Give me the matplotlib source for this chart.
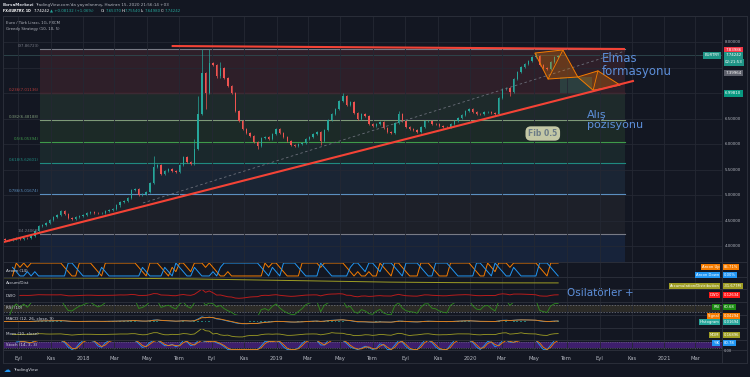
import matplotlib.pyplot as plt
import matplotlib.dates as mdates
import matplotlib.transforms as mtrans
from matplotlib.patches import Polygon, Rectangle
from matplotlib.lines import Line2D
import numpy as np
import pandas as pd

W, H = 750, 377
BG = '#131722'
GRID = '#242833'
SEP = '#2a2e39'
TXT = '#b2b5be'
UP, DN = '#26a69a', '#ef5350'

# EUR/TRY weekly closes (weeks from 2017-07-31 to 2020-06-15)
closes = [4.15, 4.13, 4.12, 4.14, 4.16, 4.15, 4.17, 4.16, 4.20, 4.30,
          4.39, 4.42, 4.45, 4.52, 4.57, 4.62, 4.70, 4.64, 4.55, 4.54,
          4.57, 4.60, 4.62, 4.65, 4.67, 4.66, 4.65, 4.66, 4.69, 4.71,
          4.73, 4.80, 4.86, 4.88, 4.95, 5.10, 5.12, 5.00, 5.02, 5.07,
          5.25, 5.55, 5.60, 5.42, 5.48, 5.52, 5.48, 5.45, 5.60, 5.75,
          5.66, 5.62, 5.90, 6.60, 7.40, 7.00, 7.60, 7.55, 7.33, 7.50,
          7.30, 7.15, 7.00, 6.65, 6.45, 6.30, 6.22, 6.16, 6.05, 5.96,
          6.12, 6.15, 6.10, 6.20, 6.30, 6.22, 6.14, 6.06, 5.98, 5.97,
          6.00, 6.03, 6.10, 6.15, 6.20, 6.24, 6.06, 6.28, 6.48, 6.60,
          6.70, 6.85, 6.95, 6.78, 6.82, 6.62, 6.50, 6.60, 6.55, 6.40,
          6.35, 6.40, 6.43, 6.32, 6.25, 6.22, 6.42, 6.60, 6.45, 6.34,
          6.30, 6.28, 6.24, 6.33, 6.45, 6.46, 6.40, 6.39, 6.36, 6.34,
          6.33, 6.40, 6.46, 6.52, 6.58, 6.66, 6.69, 6.64, 6.60, 6.59,
          6.63, 6.64, 6.62, 6.60, 6.90, 7.08, 7.10, 7.02, 7.28, 7.42,
          7.52, 7.58, 7.64, 7.72, 7.74, 7.55, 7.50, 7.47, 7.62, 7.72,
          7.74]
dates = pd.date_range('2017-07-31', periods=len(closes), freq='7D')
# weeks with long wicks
wick_hi = {41: 5.78, 52: 6.10, 53: 6.95, 54: 7.87, 56: 7.86, 59: 7.62,
           92: 7.00, 107: 6.66, 144: 7.80}
wick_lo = {55: 6.70, 69: 5.90, 86: 5.98, 137: 6.95}

# accumulation / distribution (millions)
ad_dates = ['2017-07-31', '2017-12-01', '2018-04-01', '2018-08-01', '2018-12-01',
            '2019-04-01', '2019-08-01', '2019-12-01', '2020-03-01', '2020-06-15']
ad_vals = [18, 16, 13, 6, -4, -14, -24, -29, -31, -31.7]

# fibonacci retracement
fib_ratio = ['0', '0.236', '0.382', '0.5', '0.618', '0.786', '1']
fib_price = [7.86723, 7.01136, 6.48188, 6.05394, 5.62601, 5.01674, 4.24068]
fib_line = ['#787b86', '#b33a3a', '#7e9a78', '#3f9a4a', '#1f8a80', '#5b8fc0', '#787b86']
fib_fill = ['#2e1f29', '#1e2a2b', '#1c2a27', '#1a282c', '#1a2534', '#1d2029', '#17233a']
fib_span = ['2017-10-12', '2020-10-19']

# drawings
trend_d, trend_p = ['2017-07-28', '2020-11-03'], [4.065, 7.241]
resist_d, resist_p = ['2018-06-19', '2020-10-17'], [7.927, 7.869]
dash_d, dash_p = ['2018-04-24', '2020-10-19'], [4.849, 7.829]
diam_a_d = ['2020-05-02', '2020-06-24', '2020-07-22', '2020-05-27']
diam_a_p = [7.79, 7.85, 7.32, 7.28]
diam_b_d = ['2020-07-22', '2020-08-29', '2020-10-10', '2020-08-20']
diam_b_p = [7.32, 7.44, 7.16, 7.06]
box_d, box_p = ['2020-06-19', '2020-08-18'], [7.00, 7.32]
last_price = 7.74242

tick_dates = pd.date_range('2017-09-01', '2021-03-01', freq='2MS')
tick_labels = ['Eyl', 'Kas', '2018', 'Mar', 'May', 'Tem', 'Eyl', 'Kas', '2019', 'Mar', 'May',
               'Tem', 'Eyl', 'Kas', '2020', 'Mar', 'May', 'Tem', 'Eyl', 'Kas', '2021', 'Mar']
price_ticks = [4.0, 4.5, 5.0, 5.5, 6.0, 6.5, 7.0, 7.5, 8.0]

xlim = (mdates.date2num(pd.Timestamp('2017-08-03')), mdates.date2num(pd.Timestamp('2021-04-20')))
D = lambda s: mdates.date2num(pd.to_datetime(s))

fig = plt.figure(figsize=(7.5, 3.77), dpi=100, facecolor=BG)


def box(y0, y1):
    return [3 / W, 1 - y1 / H, 719 / W, (y1 - y0) / H]


def panel(y0, y1):
    a = fig.add_axes(box(y0, y1))
    a.set_facecolor(BG)
    a.set_xlim(xlim)
    a.set_xticks(mdates.date2num(tick_dates))
    a.set_yticks([])
    a.tick_params(length=0, labelbottom=False)
    a.grid(axis='x', color=GRID, lw=0.6)
    for sp in a.spines.values():
        sp.set_visible(False)
    return a


# ---- main price pane
ax = panel(16, 262)
ax.set_ylim(3.692, 8.516)
ax.set_yticks(price_ticks)
ax.grid(axis='y', color=GRID, lw=0.6)
ax.tick_params(axis='y', labelleft=False)

f0, f1 = D(fib_span[0]), D(fib_span[1])
for k in range(len(fib_price)):
    lo = fib_price[k + 1] if k + 1 < len(fib_price) else ax.get_ylim()[0]
    ax.add_patch(Rectangle((f0, lo), f1 - f0, fib_price[k] - lo, fc=fib_fill[k], ec='none', zorder=0.5))
    ax.plot([f0, f1], [fib_price[k]] * 2, color=fib_line[k], lw=0.8, zorder=1)
    ax.text(f0 - 2, fib_price[k] + 0.02, f'{fib_ratio[k]}({fib_price[k]:.5f})', color=fib_line[k],
            fontsize=2.8, ha='right', va='bottom')

ax.axhline(last_price, color='#2f4a4f', lw=0.6, zorder=1)

xd = mdates.date2num(dates)
for i, c in enumerate(closes):
    o = closes[i - 1] if i > 0 else c
    col = UP if c >= o else DN
    hi = wick_hi.get(i, max(o, c) + 0.02)
    lo = wick_lo.get(i, min(o, c) - 0.02)
    ax.vlines(xd[i], lo, hi, color=col, lw=0.5, zorder=2)
    ax.bar(xd[i], max(abs(c - o), 0.01), bottom=min(o, c), width=2.6, color=col, lw=0, zorder=2)

ax.plot(D(dash_d), dash_p, color='#6b6f7a', lw=0.6, ls=(0, (3, 3)), zorder=3)
ax.plot(D(trend_d), trend_p, color='#f44336', lw=1.5, zorder=4)
ax.plot(D(resist_d), resist_p, color='#f44336', lw=1.5, zorder=4)
ax.add_patch(Rectangle((D(box_d[0]), box_p[0]), D(box_d[1]) - D(box_d[0]), box_p[1] - box_p[0],
                       fc='#2c3f3f', ec='none', zorder=1.5))
for dd, pp in ((diam_a_d, diam_a_p), (diam_b_d, diam_b_p)):
    pts = np.column_stack([D(dd), pp])
    ax.add_patch(Polygon(pts, closed=True, fc='#f57c00', alpha=0.28, ec='none', zorder=3))
    ax.add_patch(Polygon(pts, closed=True, fill=False, ec='#f57c00', lw=0.7, zorder=3))
    ax.plot([pts[1, 0], pts[3, 0]], [pts[1, 1], pts[3, 1]], color='#f57c00', lw=0.6, zorder=3)

ax.text(D('2020-09-06'), 7.81, 'Elmas\nformasyonu', color='#5d8fda', fontsize=8.5, va='top',
        ha='left', linespacing=1.0, zorder=6)
ax.text(D('2020-08-08'), 6.673, 'Alış\npozisyonu', color='#5d8fda', fontsize=8, va='top',
        ha='left', linespacing=1.0, zorder=6)
ax.text(D('2020-05-17'), 6.212, 'Fib 0.5', color='#6b7b86', fontsize=5.5, fontweight='bold',
        ha='center', va='center', zorder=6,
        bbox=dict(boxstyle='round,pad=0.35,rounding_size=0.7', fc='#c3c7a5', ec='none'))

# price scale
bl = mtrans.blended_transform_factory(ax.transAxes, ax.transData)
for p in price_ticks:
    if p in (7.0, 7.5):
        continue
    ax.text(1.0045, p, f'{p:.5f}', transform=bl, fontsize=2.9, color=TXT, va='center', ha='left')
tags = [(7.83986, '7.83986', '#f23645'), (last_price, '7.74242', '#1e9486'),
        (7.605, '02:21:53', '#1e9486'), (7.39964, '7.39964', '#5d606b'),
        (6.99810, '6.99810', '#089981')]
for p, s, c in tags:
    ax.text(1.0045, p, s, transform=bl, fontsize=2.9, color='white', va='center', ha='left',
            bbox=dict(fc=c, ec='none', pad=0.9))
ax.text(0.9965, last_price, 'EURTRY', transform=bl, fontsize=2.9, color='white', va='center',
        ha='right', bbox=dict(fc='#1e9486', ec='none', pad=0.9))

# ---- indicators from the weekly closes
s = pd.Series(closes, index=xd)
n = 3
ar_up = s.rolling(n + 1).apply(lambda w: 100 * np.argmax(w) / n, raw=True)
ar_dn = s.rolling(n + 1).apply(lambda w: 100 * np.argmin(w) / n, raw=True)
dwo = s - s.rolling(6).mean()
d = s.diff()
gain = d.clip(lower=0).ewm(alpha=1 / 3).mean()
loss = (-d.clip(upper=0)).ewm(alpha=1 / 3).mean()
rsi = 100 - 100 / (1 + gain / loss.replace(0, np.nan))
macd = s.ewm(span=3).mean() - s.ewm(span=6).mean()
signal = macd.ewm(span=2).mean()
hist = macd - signal
mom = s - s.shift(3)
lo4, hi4 = s.rolling(4).min(), s.rolling(4).max()
k = (100 * (s - lo4) / (hi4 - lo4).replace(0, np.nan)).rolling(2).mean()
dk = k.rolling(2).mean()

a1 = panel(262, 277)
a1.set_ylim(-8, 108)
a1.plot(s.index, ar_up, color='#f57c00', lw=0.7)
a1.plot(s.index, ar_dn, color='#2196f3', lw=0.7)

a2 = panel(277, 289)
a2.set_ylim(-90, 25)
a2.plot(D(ad_dates), ad_vals, color='#9e9d24', lw=0.7)

a3 = panel(289, 302)
a3.set_ylim(-1.3, 1.3)
a3.plot(s.index, dwo, color='#b71c1c', lw=0.7)

a4 = panel(302, 315)
a4.set_ylim(12.9, 87.1)
a4.axhspan(30, 70, color='#2c2b27', lw=0)
for v in (30, 70):
    a4.axhline(v, color='#787b86', lw=0.5, ls=(0, (2, 2)))
a4.plot(s.index, rsi, color='#2e8b1e', lw=0.6)

a5 = panel(315, 328)
a5.set_ylim(-0.6, 0.6)
a5.bar(s.index, hist, width=3.5, color=np.where(hist >= 0, '#26a69a', '#ef5350'), lw=0, alpha=0.7)
a5.plot(s.index, macd, color='#2196f3', lw=0.6)
a5.plot(s.index, signal, color='#f57c00', lw=0.6)

a6 = panel(328, 340)
a6.set_ylim(-1.6, 1.9)
a6.plot(s.index, mom, color='#9e9d24', lw=0.6)

a7 = panel(340, 350)
a7.set_ylim(-5, 105)
a7.axhspan(20, 80, color='#3e1f6c', lw=0)
for v in (20, 80):
    a7.axhline(v, color='#787b86', lw=0.4, ls=(0, (2, 2)))
a7.plot(s.index, k, color='#2196f3', lw=0.6)
a7.plot(s.index, dk, color='#f57c00', lw=0.6)
a7.tick_params(labelbottom=True, labelsize=3.8, labelcolor=TXT, pad=4.5)
a7.set_xticklabels(tick_labels)

panel_names = [('Aroon (14)', 271), ('Accum/Dist', 283), ('DWO', 296), ('RSI (10)', 308),
               ('MACD (12, 26, close, 9)', 319), ('Mom (10, close)', 334), ('Stoch (14, 3, 3)', 345)]
for name, y in panel_names:
    fig.text(6 / W, 1 - y / H, name, fontsize=3, color='#d1d4dc', va='center')

ind_tags = [('Aroon Up', '85.71%', '#f57c00', 267), ('Aroon Down', '0.00%', '#2196f3', 275),
            ('Accumulation/Distribution', '-31.677M', '#9e9d24', 286), ('DWO', '0.12634', '#ff1a1a', 295),
            ('RSI', '60.68', '#1b8a12', 307), ('Signal', '0.04294', '#f57c00', 316),
            ('Histogram', '0.01694', '#26a69a', 322), ('MOM', '0.16896', '#9e9d24', 335),
            ('%K', '80.78', '#2196f3', 343)]
for name, val, c, y in ind_tags:
    fig.text(719.5 / W, 1 - y / H, name, fontsize=2.7, color='white', ha='right', va='center',
             bbox=dict(fc=c, ec='none', pad=0.7))
    fig.text(724 / W, 1 - y / H, val, fontsize=2.7, color='white', ha='left', va='center',
             bbox=dict(fc=c, ec='none', pad=0.7))
fig.text(724 / W, 1 - 351 / H, '0.00', fontsize=2.6, color=TXT, va='center')

fig.text(567 / W, 1 - 293 / H, 'Osilatörler +', color='#5d8fda', fontsize=7.5, va='center')

# frame / separators
for y in (16, 262, 277, 289, 302, 315, 328, 340, 350):
    fig.add_artist(Line2D([3 / W, 747 / W], [1 - y / H] * 2, color=SEP, lw=0.7))
for x in (3, 722, 747):
    fig.add_artist(Line2D([x / W] * 2, [1 - 16 / H, 1 - 363 / H], color=SEP, lw=0.7))
fig.add_artist(Line2D([3 / W, 747 / W], [1 - 363 / H] * 2, color=SEP, lw=0.7))

# header
fig.text(3 / W, 1 - 4.7 / H, 'BorsaMerkezi', fontsize=3, color='#d1d4dc', fontweight='bold', va='center')
fig.text(35 / W, 1 - 4.7 / H, "TradingView.com'da yayınlanmış, Haziran 15, 2020 21:56:14 +03",
         fontsize=3, color=TXT, va='center')
hdr = [(3, 'FX:EURTRY, 1D', 'white'), (34, '7.74242', 'white'), (50, '▲ +0.08132 (+1.06%)', UP),
       (101, 'O:', 'white'), (106, '7.65370', UP), (122, 'H:', 'white'), (125, '7.75540', UP),
       (141, 'L:', 'white'), (145, '7.64980', UP), (161, 'C:', 'white'), (165, '7.74242', UP)]
for x, t, c in hdr:
    bold = t.startswith('FX')
    fig.text(x / W, 1 - 10.8 / H, t, fontsize=2.45 if bold else 2.8, color=c, va='center',
             fontweight='bold' if bold else 'normal')
fig.text(6 / W, 1 - 22.5 / H, 'Euro / Türk Lirası, 1G, FXCM', fontsize=2.8, color=TXT, va='center')
fig.text(6 / W, 1 - 29 / H, 'Greedy Strategy (10, 10, 5)', fontsize=2.8, color=TXT, va='center')
fig.text(4 / W, 1 - 370 / H, '☁', fontsize=5, color='#2196f3', va='center')
fig.text(13 / W, 1 - 370 / H, 'TradingView', fontsize=3, color='#d1d4dc', va='center')

fig.savefig('out.png', dpi=100, facecolor=BG)
